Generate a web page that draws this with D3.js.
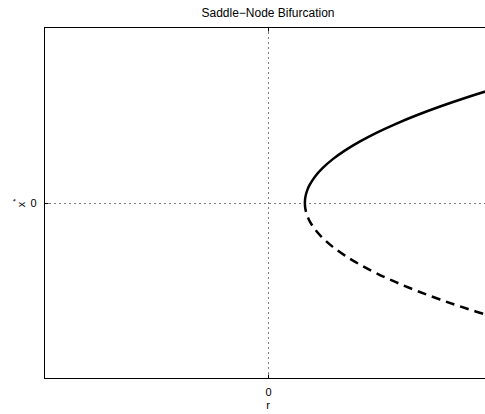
<!DOCTYPE html>
<html>
<head>
<meta charset="utf-8">
<script src="https://cdn.jsdelivr.net/npm/d3@7"></script>
<style>
  html, body { margin: 0; padding: 0; background: #fff; }
  svg { display: block; font-family: "Liberation Sans", Arial, Helvetica, sans-serif; }
</style>
</head>
<body>
<svg id="chart" width="485" height="414"></svg>
<script>
// Fixed points x* of the saddle-node normal form, sampled along each branch
const xStar = [0, 0.05, 0.1, 0.15, 0.2, 0.3, 0.4, 0.5, 0.6, 0.7, 0.8, 0.9, 1.0, 1.1, 1.2, 1.3, 1.35];
const rStable = [0.33, 0.3325, 0.34, 0.3525, 0.37, 0.42, 0.49, 0.58, 0.69, 0.82, 0.97, 1.14, 1.33, 1.54, 1.77, 2.02, 2.1525];
const xUnstable = [0, -0.05, -0.1, -0.15, -0.2, -0.3, -0.4, -0.5, -0.6, -0.7, -0.8, -0.9, -1.0, -1.1, -1.2, -1.3, -1.35];
const rUnstable = [0.33, 0.3325, 0.34, 0.3525, 0.37, 0.42, 0.49, 0.58, 0.69, 0.82, 0.97, 1.14, 1.33, 1.54, 1.77, 2.02, 2.1525];
const xTicks = [0];
const yTicks = [0];
const rDomain = [-2, 2];
const xDomain = [-2, 2];

const svg = d3.select("#chart");
const plotLeft = 44.5, plotRight = 491.5, plotTop = 27.5, plotBottom = 378.5;

const x = d3.scaleLinear().domain(rDomain).range([plotLeft, plotRight]);
const y = d3.scaleLinear().domain(xDomain).range([plotBottom, plotTop]);

svg.append("defs").append("clipPath").attr("id", "plotArea")
  .append("rect").attr("x", plotLeft).attr("y", plotTop)
  .attr("width", plotRight - plotLeft).attr("height", plotBottom - plotTop);

// dotted grid at the ticks
const grid = svg.append("g").attr("stroke", "#000").attr("stroke-width", 1)
  .attr("stroke-dasharray", "1,4").attr("fill", "none");
xTicks.forEach(t => grid.append("line")
  .attr("x1", Math.round(x(t)) + 0.5).attr("x2", Math.round(x(t)) + 0.5)
  .attr("y1", plotTop).attr("y2", plotBottom));
yTicks.forEach(t => grid.append("line")
  .attr("x1", plotLeft).attr("x2", plotRight)
  .attr("y1", Math.round(y(t)) + 0.5).attr("y2", Math.round(y(t)) + 0.5));

// branches
const pts = (rs, xs) => rs.map((r, i) => [r, xs[i]]);
const line = d3.line().x(d => x(d[0])).y(d => y(d[1])).curve(d3.curveCatmullRom);
const plot = svg.append("g").attr("clip-path", "url(#plotArea)");
plot.append("path").datum(pts(rStable, xStar))
  .attr("d", line).attr("fill", "none").attr("stroke", "#000").attr("stroke-width", 2.5);
plot.append("path").datum(pts(rUnstable, xUnstable))
  .attr("d", line).attr("fill", "none").attr("stroke", "#000").attr("stroke-width", 2.5)
  .attr("stroke-dasharray", "9,6");

// axes with inward ticks, box style
const xAxisB = d3.axisBottom(x).tickValues(xTicks).tickSize(-4).tickPadding(10).tickFormat(d3.format("d"));
const xAxisT = d3.axisTop(x).tickValues(xTicks).tickSize(-4).tickFormat("");
const yAxisL = d3.axisLeft(y).tickValues(yTicks).tickSize(-4).tickPadding(8).tickFormat(d3.format("d"));

function style(g) {
  g.select(".domain").remove();
  g.selectAll("line").attr("stroke", "#000");
  g.selectAll("text").attr("fill", "#000").attr("font-size", 11)
    .attr("font-family", "Liberation Sans, Arial, sans-serif");
}
svg.append("g").attr("transform", `translate(0,${plotBottom})`).call(xAxisB).call(style);
svg.append("g").attr("transform", `translate(0,${plotTop})`).call(xAxisT).call(style);
svg.append("g").attr("transform", `translate(${plotLeft},0)`).call(yAxisL).call(style);

// frame
svg.append("rect").attr("x", plotLeft).attr("y", plotTop)
  .attr("width", plotRight - plotLeft).attr("height", plotBottom - plotTop)
  .attr("fill", "none").attr("stroke", "#000").attr("stroke-width", 1);

// labels
svg.append("text").attr("x", x(0)).attr("y", 17).attr("text-anchor", "middle")
  .attr("font-size", 12).text("Saddle\u2212Node Bifurcation");
svg.append("text").attr("x", x(0)).attr("y", 409).attr("text-anchor", "middle")
  .attr("font-size", 11).text("r");
const yl = svg.append("text").attr("transform", `translate(25,${y(0)}) rotate(-90)`)
  .attr("text-anchor", "middle").attr("font-size", 11);
yl.append("tspan").text("x");
yl.append("tspan").attr("dy", -7).attr("font-size", 8).text("*");
</script>
</body>
</html>
